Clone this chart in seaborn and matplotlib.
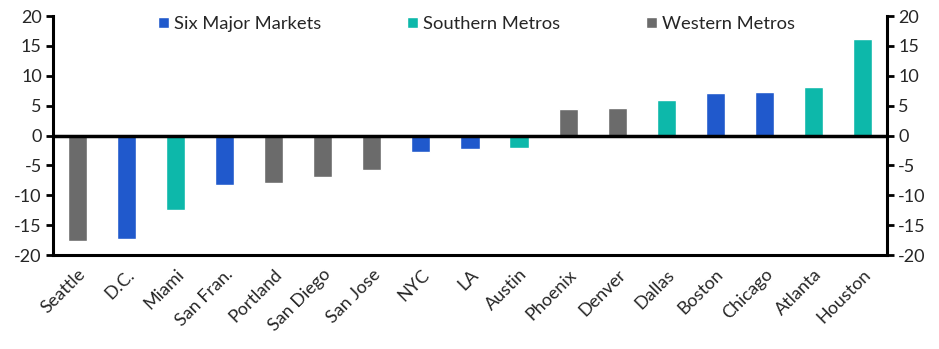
import matplotlib
matplotlib.use("Agg")
import matplotlib.pyplot as plt
import seaborn as sns
import pandas as pd
import numpy as np

# Change by metro, sorted from weakest to strongest
cities = ["Seattle", "D.C.", "Miami", "San Fran.", "Portland", "San Diego",
          "San Jose", "NYC", "LA", "Austin", "Phoenix", "Denver", "Dallas",
          "Boston", "Chicago", "Atlanta", "Houston"]
values = [-17.6, -17.3, -12.4, -8.2, -8.0, -7.0, -5.8, -2.7, -2.2, -2.1,
          4.4, 4.6, 5.9, 7.1, 7.3, 8.1, 16.2]
groups = ["Western Metros", "Six Major Markets", "Southern Metros",
          "Six Major Markets", "Western Metros", "Western Metros",
          "Western Metros", "Six Major Markets", "Six Major Markets",
          "Southern Metros", "Western Metros", "Western Metros",
          "Southern Metros", "Six Major Markets", "Six Major Markets",
          "Southern Metros", "Southern Metros"]
group_order = ["Six Major Markets", "Southern Metros", "Western Metros"]
palette = {"Six Major Markets": "#2059cc",
           "Southern Metros": "#0db8aa",
           "Western Metros": "#6b6b6b"}
y_ticks = [-20, -15, -10, -5, 0, 5, 10, 15, 20]

df = pd.DataFrame({"city": cities, "value": values, "group": groups})

sns.set_theme(style="white")
plt.rcParams["font.family"] = ["Lato", "DejaVu Sans"]

FS = 13

fig = plt.figure(figsize=(9.39, 3.49), dpi=100)
ax = fig.add_axes([0.0564, 0.269, 0.8882, 0.685])

sns.barplot(data=df, x="city", y="value", hue="group", hue_order=group_order,
            order=cities, palette=palette, dodge=False, width=0.39,
            saturation=1, ax=ax)

ax.set_xlim(-0.5, len(cities) - 0.5)
ax.set_ylim(-20, 20)
ax.set_yticks(y_ticks)
ax.set_yticklabels([str(t) for t in y_ticks], fontsize=FS)
ax.set_xlabel("")
ax.set_ylabel("")

# Category labels, with tick marks between categories
ax.set_xticks(range(len(cities)))
ax.set_xticklabels(cities, rotation=45, ha="right", rotation_mode="anchor",
                   fontsize=FS)
ax.set_xticks(np.arange(-0.5, len(cities), 1.0), minor=True)
ax.tick_params(axis="x", which="major", length=0, pad=8)
ax.tick_params(axis="x", which="minor", length=5, width=2, color="black",
               direction="out")
ax.tick_params(axis="y", length=5, width=2, color="black", direction="out",
               pad=3)

ax.axhline(0, color="black", lw=2.5, zorder=5)

for side in ["left", "right", "bottom"]:
    ax.spines[side].set_visible(True)
    ax.spines[side].set_color("black")
    ax.spines[side].set_linewidth(2.2)
ax.spines["top"].set_visible(False)

# Mirror the value axis on the right
ax2 = ax.twinx()
ax2.set_ylim(-20, 20)
ax2.set_yticks(y_ticks)
ax2.set_yticklabels([str(t) for t in y_ticks], fontsize=FS)
ax2.tick_params(axis="y", length=5, width=2, color="black", direction="out",
                pad=3)
for side in ["left", "right", "bottom", "top"]:
    ax2.spines[side].set_visible(False)
ax2.grid(False)
ax.grid(False)

handles, labels = ax.get_legend_handles_labels()
ax.legend(handles, labels, loc="upper center", bbox_to_anchor=(0.508, 1.07),
          ncol=3, frameon=False, fontsize=13.2, handlelength=0.6,
          handleheight=0.6, handletextpad=0.3, columnspacing=4.65)

fig.savefig("out.png", dpi=100)
